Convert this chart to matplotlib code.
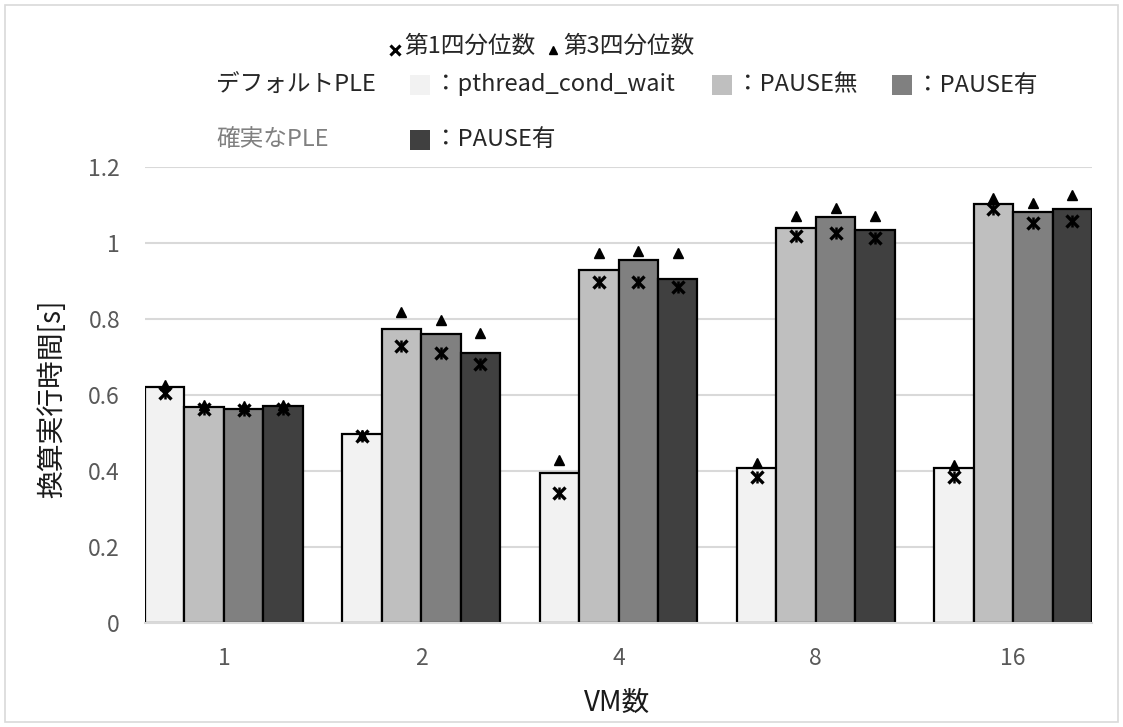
import numpy as np
import matplotlib
matplotlib.use("Agg")
import matplotlib.pyplot as plt
from matplotlib.lines import Line2D
from matplotlib.patches import Rectangle

plt.rcParams['font.family'] = ['Noto Sans CJK JP', 'DejaVu Sans']

# VM count categories
categories = ['1', '2', '4', '8', '16']

# bar heights (execution time)
pthread_wait = [0.620, 0.497, 0.394, 0.409, 0.409]
pause_none = [0.569, 0.774, 0.929, 1.039, 1.103]
pause_on = [0.563, 0.761, 0.955, 1.068, 1.082]
sure_pause_on = [0.570, 0.711, 0.906, 1.034, 1.089]

# first quartile (x markers)
q1_pthread = [0.604, 0.492, 0.342, 0.385, 0.385]
q1_none = [0.563, 0.730, 0.898, 1.018, 1.089]
q1_on = [0.561, 0.711, 0.898, 1.026, 1.053]
q1_sure = [0.563, 0.682, 0.885, 1.012, 1.059]

# third quartile (triangles)
q3_pthread = [0.626, 0.495, 0.429, 0.421, 0.416]
q3_none = [0.574, 0.818, 0.974, 1.071, 1.118]
q3_on = [0.570, 0.797, 0.980, 1.091, 1.106]
q3_sure = [0.574, 0.763, 0.974, 1.071, 1.126]

bars = [pthread_wait, pause_none, pause_on, sure_pause_on]
q1s = [q1_pthread, q1_none, q1_on, q1_sure]
q3s = [q3_pthread, q3_none, q3_on, q3_sure]
colors = ['#f2f2f2', '#bfbfbf', '#808080', '#404040']

W, H = 1123, 727
fig = plt.figure(figsize=(W / 100, H / 100), dpi=100)
ax = fig.add_axes([145 / W, 1 - 623 / H, (1092 - 145) / W, (623 - 167) / H])

x = np.arange(len(categories))
width = 0.2
offsets = [-0.3, -0.1, 0.1, 0.3]

for vals, lo, hi, c, off in zip(bars, q1s, q3s, colors, offsets):
    ax.bar(x + off, vals, width, color=c, edgecolor='black', linewidth=1.6, zorder=2)
    ax.plot(x + off, hi, linestyle='none', marker='^', color='black', markersize=7, zorder=4)
    ax.plot(x + off, lo, linestyle='none', marker='x', color='black', markersize=9,
            markeredgewidth=2.4, zorder=4)
    ax.plot(x + off, lo, linestyle='none', marker='|', color='black', markersize=8,
            markeredgewidth=1.8, zorder=4)

ax.set_xlim(-0.4, 4.4)
ax.set_ylim(0, 1.2)
ax.set_yticks([0, 0.2, 0.4, 0.6, 0.8, 1.0, 1.2])
ax.set_yticklabels(['0', '0.2', '0.4', '0.6', '0.8', '1', '1.2'])
ax.set_xticks(x)
ax.set_xticklabels(categories)
ax.yaxis.grid(True, color='#d9d9d9', linewidth=1.5, zorder=0)
ax.set_axisbelow(True)
for s in ['left', 'right', 'top']:
    ax.spines[s].set_visible(False)
ax.spines['bottom'].set_color('#d9d9d9')
ax.spines['bottom'].set_linewidth(1.5)
ax.tick_params(axis='both', length=0, labelsize=16.5, labelcolor='#595959')
ax.tick_params(axis='y', pad=18)
ax.tick_params(axis='x', pad=17)


def fx(px):
    return px / W


def fy(py):
    return 1 - py / H


# axis titles
fig.text(fx(52), fy(399), '換算実行時間[s]', rotation=90, fontsize=20, color='#1a1a1a',
         ha='center', va='center')
fig.text(fx(617), fy(703), 'VM数', fontsize=20, color='#1a1a1a', ha='center', va='center')

# custom legend
top = dict(fontsize=17, color='#262626', va='center', ha='left')
fig.add_artist(Line2D([fx(395)], [fy(50)], marker='x', color='black', markersize=7,
                      markeredgewidth=2.2, linestyle='none'))
fig.text(fx(404), fy(46), '第1四分位数', **top)
fig.add_artist(Line2D([fx(553)], [fy(50)], marker='^', color='black', markersize=6,
                      linestyle='none'))
fig.text(fx(563), fy(46), '第3四分位数', **top)

txt = dict(fontsize=17, color='#262626', va='center', ha='left')
fig.text(fx(216), fy(85), 'デフォルトPLE', **txt)
legend_rows = [
    (420, 85, colors[0], '：pthread_cond_wait'),
    (722, 85, colors[1], '：PAUSE無'),
    (902, 85, colors[2], '：PAUSE有'),
    (420, 140, colors[3], '：PAUSE有'),
]
for px, py, c, label in legend_rows:
    fig.add_artist(Rectangle((fx(px - 10), fy(py + 10)), 20 / W, 20 / H, facecolor=c,
                             edgecolor='none', transform=fig.transFigure))
    fig.text(fx(px + 14), fy(py), label, **txt)
fig.text(fx(216), fy(140), '確実なPLE', fontsize=17, color='#808080', va='center', ha='left')

# chart border
fig.add_artist(Rectangle((fx(5), fy(722)), (1118 - 5) / W, (722 - 5) / H, fill=False,
                         edgecolor='#d9d9d9', linewidth=1.2, transform=fig.transFigure))

fig.savefig('out.png', dpi=100)
